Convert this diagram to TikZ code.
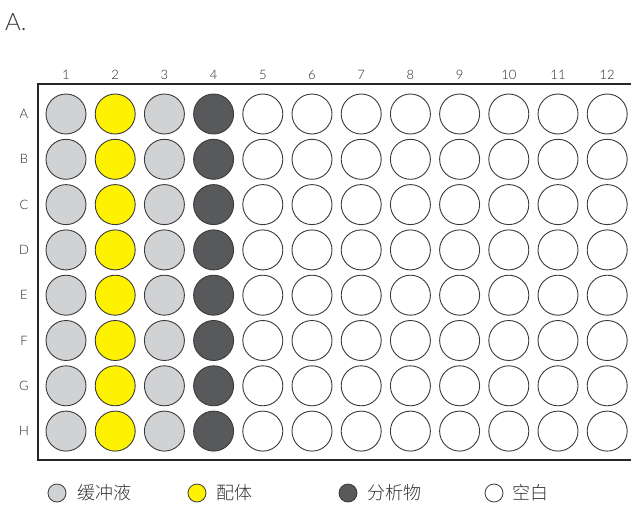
\documentclass[tikz,border=0pt]{standalone}
\usepackage{fontspec}
\setmainfont{Lato Light}
\newfontfamily\cjk{Noto Sans CJK SC Light}
\definecolor{buf}{HTML}{D1D2D4}
\definecolor{lig}{HTML}{FFF200}
\definecolor{ana}{HTML}{58595B}
\definecolor{edge}{HTML}{3A3A3A}
\begin{document}
\begin{tikzpicture}[x=1pt,y=-1pt,
  well/.style={circle,draw=edge,line width=0.9pt,minimum size=40pt,inner sep=0pt},
  lwell/.style={circle,draw=edge,line width=0.8pt,minimum size=18pt,inner sep=0pt},
  lbl/.style={font=\fontsize{13}{13}\selectfont,text=black!85},
  leg/.style={font=\cjk\fontsize{18}{18}\selectfont,text=black!80,anchor=west,inner sep=0pt}]
\useasboundingbox (0,0) rectangle (631,506);
\node[font=\fontsize{24}{24}\selectfont,text=black!80,anchor=west,inner sep=0pt] (title) at (5,22) {A.};
\draw[line width=1.3pt,black!85] (631,84) -- (38,84) -- (38,460) -- (631,460);
\foreach \c [count=\i] in {buf,lig,buf,ana,white,white,white,white,white,white,white,white}{
  \pgfmathsetmacro{\xx}{66+(\i-1)*49.2}
  \node[lbl] (col\i) at (\xx,75) {\i};
  \foreach \r [count=\j] in {A,B,C,D,E,F,G,H}{
    \pgfmathsetmacro{\yy}{114+(\j-1)*45.3}
    \node[well,fill=\c] (w\r\i) at (\xx,\yy) {};
  }
}
\foreach \r [count=\j] in {A,B,C,D,E,F,G,H}{
  \pgfmathsetmacro{\yy}{114+(\j-1)*45.3}
  \node[lbl] (row\r) at (24,\yy) {\r};
}
\node[lwell,fill=buf] (l1) at (57,493) {};
\node[leg] (t1) at (77,493) {缓冲液};
\node[lwell,fill=lig] (l2) at (197,493) {};
\node[leg] (t2) at (216,493) {配体};
\node[lwell,fill=ana] (l3) at (348,493) {};
\node[leg] (t3) at (367,493) {分析物};
\node[lwell,fill=white] (l4) at (494,493) {};
\node[leg] (t4) at (512,493) {空白};
\end{tikzpicture}
\end{document}
